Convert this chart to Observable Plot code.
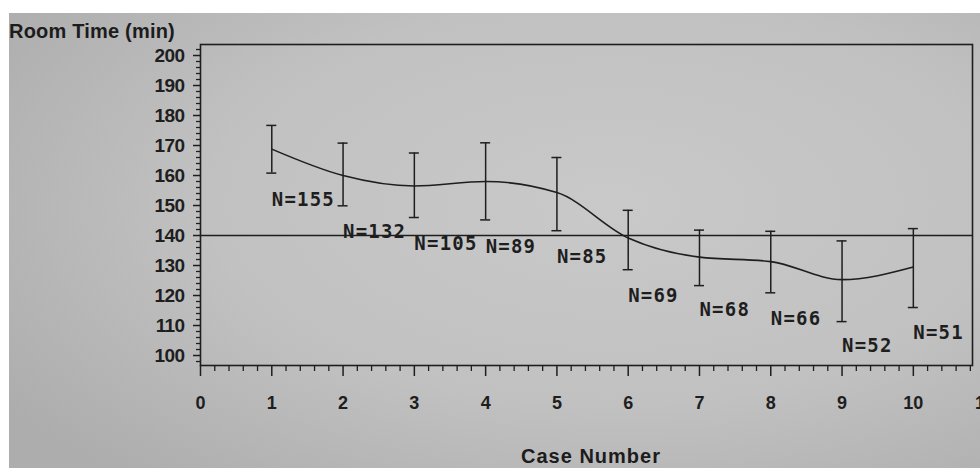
<!DOCTYPE html>
<html>
<head>
<meta charset="utf-8">
<script src="https://cdn.jsdelivr.net/npm/d3@7"></script>
<script src="https://cdn.jsdelivr.net/npm/@observablehq/plot@0.6"></script>
<style>
  html, body { margin: 0; padding: 0; background: #ffffff; }
  body { width: 980px; height: 468px; overflow: hidden; position: relative; font-family: "Liberation Sans", Arial, sans-serif; }
  #paper { position: absolute; left: 9px; top: 13px; width: 971px; height: 455px;
    background: radial-gradient(ellipse 75% 80% at 62% 42%, #c9c9c9 0%, #c1c1c1 55%, #adadad 100%); }
  #title { position: absolute; left: 9px; top: 21px; font-size: 20px; font-weight: bold; line-height: 20px; color: #1c1c1c; white-space: nowrap; letter-spacing: 0.2px; }
  #chart { position: absolute; left: 0; top: 40px; }
  #xlabel { position: absolute; left: 491px; width: 200px; top: 446px; text-align: center; font-size: 20px; font-weight: bold; letter-spacing: 1px; line-height: 20px; color: #1c1c1c; white-space: nowrap; }
</style>
</head>
<body>
<div id="paper"></div>
<div id="title">Room Time (min)</div>
<div id="chart"></div>
<div id="xlabel">Case Number</div>
<script>
// ---- data ----
const cases   = [1, 2, 3, 4, 5, 6, 7, 8, 9, 10];
const means   = [168.8, 160.0, 156.5, 158.0, 154.3, 139.2, 132.8, 131.3, 125.3, 129.5];
const upper   = [176.7, 170.8, 167.5, 170.9, 166.0, 148.4, 141.8, 141.4, 138.2, 142.3];
const lower   = [160.8, 149.9, 146.0, 145.2, 141.6, 128.6, 123.3, 120.9, 111.3, 116.0];
const nLabels = ["N=155", "N=132", "N=105", "N=89", "N=85", "N=69", "N=68", "N=66", "N=52", "N=51"];
const labelY  = [151.8, 141.3, 137.3, 136.3, 133.0, 120.0, 115.1, 112.3, 103.3, 107.5];
const refLine = 140;
const xTicks  = [0, 1, 2, 3, 4, 5, 6, 7, 8, 9, 10, 11];
const yTicks  = [100, 110, 120, 130, 140, 150, 160, 170, 180, 190, 200];
const xMinorStep = 0.2;
const yMinorStep = 2;

const data = cases.map((c, i) => ({case: c, mean: means[i], hi: upper[i], lo: lower[i], n: nLabels[i], ly: labelY[i]}));
const xMinor = d3.range(0, 10.9, xMinorStep).map(v => +v.toFixed(1)).filter(v => Math.abs(v - Math.round(v)) > 1e-6);
const yMinor = d3.range(98, 203, yMinorStep).filter(v => v % 10 !== 0);

const ink = "#1e1e1e";
const chart = Plot.plot({
  width: 980,
  height: 400,
  marginLeft: 200,
  marginRight: 8,
  marginTop: 4,
  marginBottom: 75,
  x: {domain: [0, 10.83]},
  y: {domain: [96.67, 203.67]},
  style: {background: "transparent", color: ink, fontFamily: "'Liberation Sans', Arial, sans-serif", fontSize: "19px", fontWeight: "bold", overflow: "visible"},
  marks: [
    Plot.frame({stroke: ink, strokeWidth: 1.6}),
    Plot.axisY(yMinor, {tickSize: 4, tickFormat: () => "", label: null, strokeWidth: 1.3}),
    Plot.axisY(yTicks, {tickSize: 7, tickPadding: 9, label: null, strokeWidth: 1.5, fontSize: 19}),
    Plot.axisX(xMinor, {tickSize: 6, tickFormat: () => "", label: null, strokeWidth: 1.3}),
    Plot.axisX(xTicks, {tickSize: 11, tickPadding: 20, label: null, strokeWidth: 1.5, fontSize: 18}),
    Plot.ruleY([refLine], {stroke: ink, strokeWidth: 1.6}),
    Plot.ruleX(data, {x: "case", y1: "lo", y2: "hi", stroke: ink, strokeWidth: 1.5}),
    Plot.ruleY(data, {y: "hi", x1: "case", x2: "case", insetLeft: -5, insetRight: -5, stroke: ink, strokeWidth: 1.5}),
    Plot.ruleY(data, {y: "lo", x1: "case", x2: "case", insetLeft: -5, insetRight: -5, stroke: ink, strokeWidth: 1.5}),
    Plot.line(data, {x: "case", y: "mean", curve: "monotone-x", stroke: ink, strokeWidth: 1.6}),
    Plot.text(data, {x: "case", y: "ly", text: "n", textAnchor: "start", fontFamily: "'DejaVu Sans Mono', monospace", fontSize: 19, fontWeight: "bold", fill: ink})
  ]
});
document.getElementById("chart").appendChild(chart);
const svg = d3.select(chart);
svg.selectAll("g[aria-label='text'] text").style("letter-spacing", "1.2px");
svg.selectAll("g[aria-label='y-axis tick label'] text, g[aria-label='y-axis tick label']")
   .style("font-size", "19px").style("letter-spacing", "-0.6px");
svg.selectAll("g[aria-label='x-axis tick label'] text, g[aria-label='x-axis tick label']")
   .style("font-size", "18px");
</script>
</body>
</html>
